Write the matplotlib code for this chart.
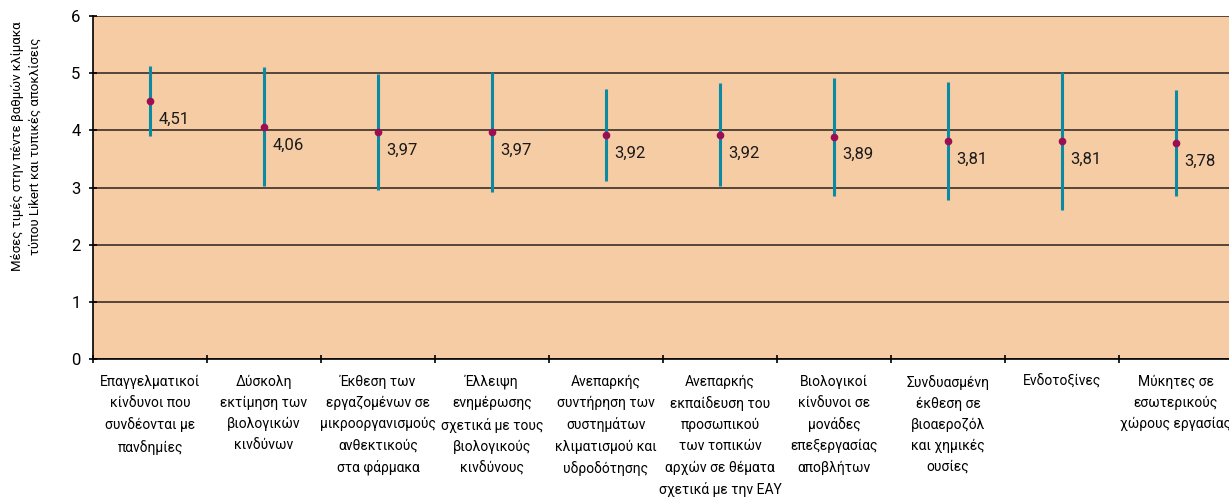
import numpy as np
import matplotlib
matplotlib.use("Agg")
import matplotlib.pyplot as plt

plt.rcParams["font.family"] = ["Roboto", "DejaVu Sans"]

categories = [
    "Επαγγελματικοί\nκίνδυνοι που\nσυνδέονται με\nπανδημίες",
    "Δύσκολη\nεκτίμηση των\nβιολογικών\nκινδύνων",
    "Έκθεση των\nεργαζομένων σε\nμικροοργανισμούς\nανθεκτικούς\nστα φάρμακα",
    "Έλλειψη\nενημέρωσης\nσχετικά με τους\nβιολογικούς\nκινδύνους",
    "Ανεπαρκής\nσυντήρηση των\nσυστημάτων\nκλιματισμού και\nυδροδότησης",
    "Ανεπαρκής\nεκπαίδευση του\nπροσωπικού\nτων τοπικών\nαρχών σε θέματα\nσχετικά με την ΕΑΥ",
    "Βιολογικοί\nκίνδυνοι σε\nμονάδες\nεπεξεργασίας\nαποβλήτων",
    "Συνδυασμένη\nέκθεση σε\nβιοαεροζόλ\nκαι χημικές\nουσίες",
    "Ενδοτοξίνες",
    "Μύκητες σε\nεσωτερικούς\nχώρους εργασίας",
]
means = [4.51, 4.06, 3.97, 3.97, 3.92, 3.92, 3.89, 3.81, 3.81, 3.78]
sds = [0.61, 1.04, 1.01, 1.05, 0.80, 0.90, 1.03, 1.03, 1.21, 0.93]
y_ticks = [0, 1, 2, 3, 4, 5, 6]

x = np.arange(len(categories))

fig = plt.figure(figsize=(12.29, 5.0), dpi=100)
ax = fig.add_axes([0.0757, 0.2814, 0.9275, 0.6872])
ax.set_facecolor("#f5cca3")

ax.errorbar(x, means, yerr=sds, fmt="none", ecolor="#0b8aa6",
            elinewidth=2.2, capsize=0, zorder=3)
ax.plot(x, means, "o", color="#9c0d52", markersize=4.5, zorder=4)

for xi, m in zip(x, means):
    ax.annotate(f"{m:.2f}".replace(".", ","), (xi, m), xytext=(6, -13),
                textcoords="offset points", ha="left", va="center",
                fontsize=12, color="#1a1a1a")

ax.set_xlim(-0.5, len(categories) - 0.5)
ax.set_ylim(0, 6)
ax.set_yticks(y_ticks)
ax.yaxis.grid(True, color="#3b2f27", linewidth=1.2)
ax.set_axisbelow(True)

ax.set_xticks(x)
ax.set_xticklabels(categories, fontsize=10, linespacing=1.63)
ax.set_xticks(np.arange(len(categories) + 1) - 0.5, minor=True)
ax.tick_params(axis="x", which="major", length=0, pad=11)
ax.tick_params(axis="x", which="minor", direction="inout", length=6, width=1.2)
ax.tick_params(axis="y", direction="inout", length=6, width=1.2,
               labelsize=12, pad=6)

for side in ["top", "right"]:
    ax.spines[side].set_visible(False)
ax.spines["left"].set_linewidth(1.2)
ax.spines["bottom"].set_linewidth(1.2)

fig.text(0.0215, 0.708, "Μέσες τιμές στην πέντε βαθμών κλίμακα\nτύπου Likert και τυπικές αποκλίσεις",
         rotation=90, ha="center", va="center", fontsize=9.5, linespacing=1.45)

fig.savefig("out.png", dpi=100)
